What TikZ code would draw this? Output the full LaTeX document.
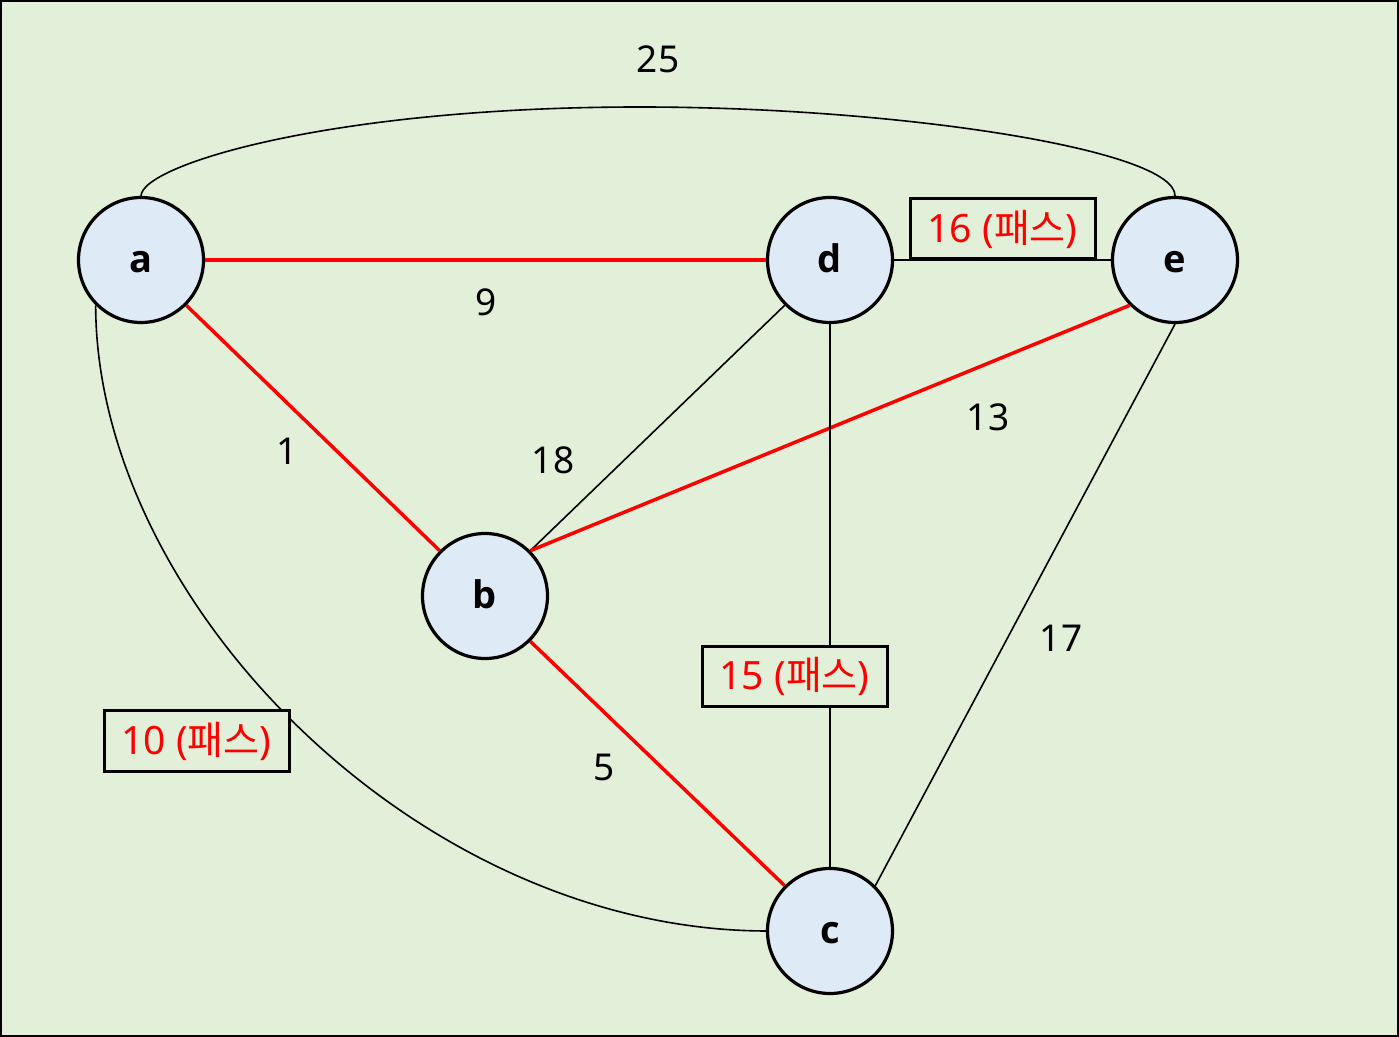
\documentclass[tikz,border=0pt]{standalone}
\usepackage{fontspec}
\setmainfont{Noto Sans}
\newfontfamily\kr{Noto Sans CJK KR}
\newfontfamily\vfont{Open Sans}
\definecolor{bg}{HTML}{E2EFD9}
\definecolor{nodefill}{HTML}{DEEBF7}
\tikzset{
  vertex/.style={circle, draw=black, line width=1.6pt, fill=nodefill, minimum size=62.5pt, inner sep=0pt, text height=12.3pt, text depth=0pt, font=\vfont\bfseries\fontsize{19}{22}\selectfont},
  rededge/.style={draw=red, line width=1.75pt},
  plainedge/.style={draw=black, line width=0.8pt},
  wlabel/.style={inner sep=0pt, font=\fontsize{18.5}{22}\selectfont},
  passbox/.style={draw=black, line width=1.5pt, fill=bg, text=red, minimum width=92.5pt, minimum height=30pt, inner sep=0pt, font=\fontsize{19.5}{22}\selectfont}
}
\begin{document}
\begin{tikzpicture}[x=0.5pt,y=-0.5pt]
\useasboundingbox (0,0) rectangle (1399,1037);
\fill[bg] (0,0) rectangle (1399,1037);
\draw[line width=1pt] (1,1) rectangle (1398,1036);

\node[vertex] (a) at (141,260) {a};
\node[vertex] (d) at (830,260) {d};
\node[vertex] (e) at (1175,260) {e};
\node[vertex] (b) at (485,596) {b};
\node[vertex] (c) at (830,931) {c};
\coordinate (top) at (640,107);

% edges
\draw[plainedge] (a.north) .. controls (142,165) and (330,107) .. (top) .. controls (900,107) and (1176,150) .. (e.north);
\draw[plainedge] (a.-135) .. controls (96,600) and (416,930) .. (c.west);
\draw[rededge] (a.east) -- (d.west);
\draw[rededge] (a.-45) -- (b.135);
\draw[plainedge] (b.45) -- (d.-135);
\draw[rededge] (b.45) -- (e.-135);
\draw[rededge] (b.-45) -- (c.135);
\draw[plainedge] (d.south) -- (c.north);
\draw[plainedge] (e.south) -- (c.45);
\draw[plainedge] (d.east) -- (e.west);

% weight labels
\node[wlabel] (l25) at (658,59) {25};
\node[wlabel] (l9) at (486,302) {9};
\node[wlabel] (l1) at (287,451) {1};
\node[wlabel] (l18) at (553,460) {18};
\node[wlabel] (l13) at (988,417) {13};
\node[wlabel] (l17) at (1061,638) {17};
\node[wlabel] (l5) at (604,767) {5};

% boxed labels
\node[passbox] (p16) at (1002.5,229) {16 ({\kr 패스})};
\node[passbox] (p15) at (794.5,676.5) {15 ({\kr 패스})};
\node[passbox] (p10) at (196.5,741) {10 ({\kr 패스})};

\end{tikzpicture}
\end{document}
